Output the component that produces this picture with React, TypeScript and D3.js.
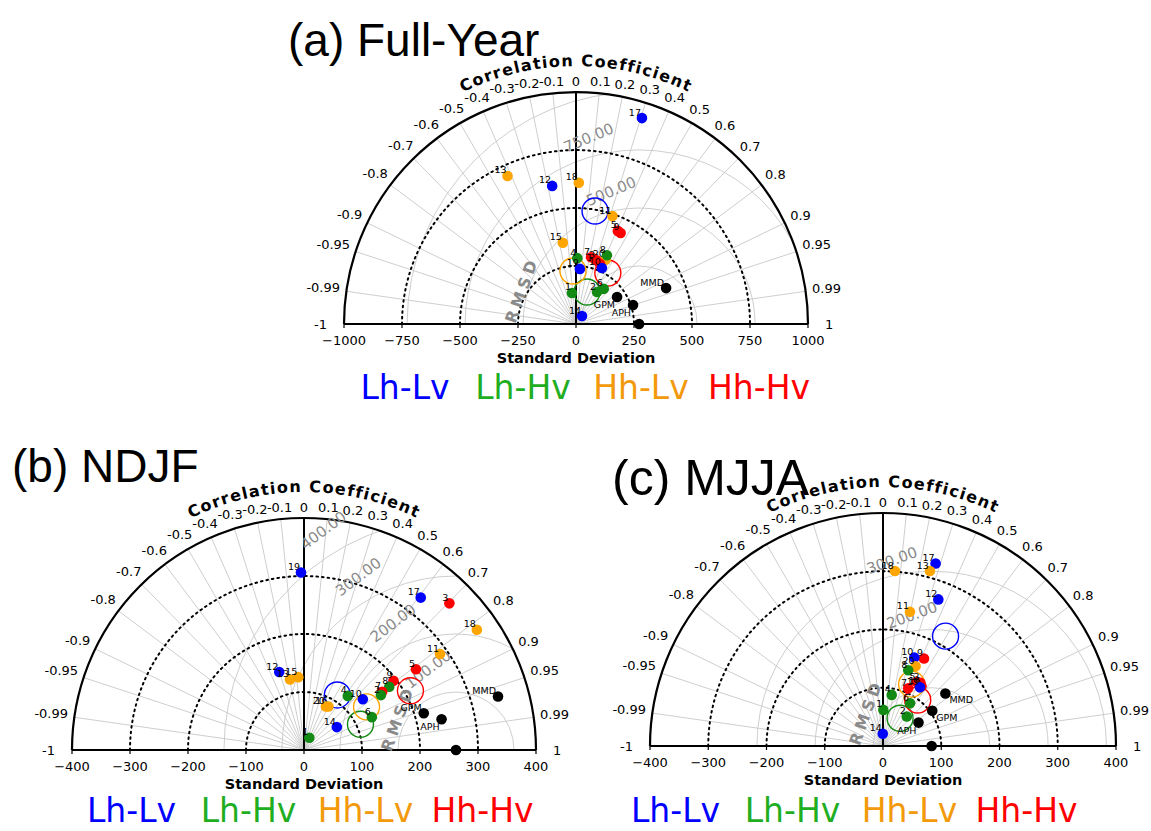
import React from 'react';
import * as d3 from 'd3';

const W = 1151;
const H = 831;
const FONT = 'DejaVu Sans, sans-serif';

// ---------- shared ----------
const corrTicks = [-1, -0.99, -0.95, -0.9, -0.8, -0.7, -0.6, -0.5, -0.4, -0.3, -0.2, -0.1, 0, 0.1, 0.2, 0.3, 0.4, 0.5, 0.6, 0.7, 0.8, 0.9, 0.95, 0.99, 1];
const groupNames = ['Lh-Lv', 'Lh-Hv', 'Hh-Lv', 'Hh-Hv'];
const markerColors = ['#0000ff', '#138a13', '#ffa500', '#ff0000'];
const legendColors = ['#0000ff', '#1fae1f', '#f39a0c', '#ff0000'];

// ---------- panel (a) Full-Year ----------
const aModelLabels = ['17', '13', '12', '18', '11', '5', '9', '15', '4', '7', '20', '8', '16', '3', '10', '19', '6', '2', '1', '14'];
const aModelGroups = [0, 2, 0, 2, 2, 3, 3, 2, 1, 3, 2, 1, 3, 3, 0, 0, 1, 1, 1, 0];
const aModelStd = [932, 703, 604, 609, 491, 440, 437, 355, 284, 295, 305, 325, 279, 289, 266, 238, 193, 165, 135, 43];
const aModelCorr = [0.305, -0.42, -0.17, 0.02, 0.32, 0.41, 0.44, -0.16, 0.02, 0.22, 0.42, 0.41, 0.37, 0.3, 0.42, 0.07, 0.62, 0.55, -0.13, 0.6];
const aObsNames = ['MMD', 'GPM', 'APH', ''];
const aObsStd = [418, 212, 259, 272];
const aObsCorr = [0.929, 0.835, 0.949, 1];
const aMeanStd = [494, 146, 229, 259];
const aMeanCorr = [0.166, 0.325, -0.057, 0.53];
const aStdTicks = [-1000, -750, -500, -250, 0, 250, 500, 750, 1000];
const aStdContours = [250, 500, 750];
const aRmsContours = [250, 500, 750, 1000];
const aRmsLabels = [500, 750];

// ---------- panel (b) NDJF ----------
const bModelLabels = ['19', '17', '3', '18', '11', '5', '9', '8', '7', '2', '4', '10', '6', '1', '14', '12', '13', '15', '16', '20'];
const bModelGroups = [0, 0, 3, 2, 2, 3, 3, 1, 3, 1, 1, 0, 1, 1, 0, 0, 2, 2, 2, 2];
const bModelStd = [306, 331, 356, 363, 287, 238, 195, 183, 168, 163, 120, 134, 130, 23, 69, 141, 124, 126, 86, 84];
const bModelCorr = [-0.017, 0.608, 0.704, 0.821, 0.817, 0.811, 0.791, 0.803, 0.802, 0.814, 0.629, 0.757, 0.9, 0.4, 0.82, -0.303, -0.194, -0.078, 0.49, 0.45];
const bObsNames = ['MMD', 'GPM', 'APH', ''];
const bObsStd = [347, 216, 243, 262];
const bObsCorr = [0.964, 0.956, 0.976, 1];
const bMeanStd = [111, 107, 131, 210];
const bMeanCorr = [0.518, 0.91, 0.823, 0.874];
const bStdTicks = [-400, -300, -200, -100, 0, 100, 200, 300, 400];
const bStdContours = [100, 200, 300];
const bRmsContours = [100, 200, 300, 400];
const bRmsLabels = [100, 200, 300, 400];

// ---------- panel (c) MJJA ----------
const cModelLabels = ['17', '13', '18', '12', '11', '9', '10', '20', '8', '5', '3', '16', '7', '19', '4', '6', '1', '2', '14'];
const cModelGroups = [0, 2, 2, 0, 2, 3, 0, 2, 1, 3, 3, 3, 3, 0, 1, 1, 1, 1, 0];
const cModelStd = [326, 311, 301, 269, 235, 166, 161, 148, 137, 124, 126, 122, 108, 119, 89, 87, 62, 65, 21];
const cModelCorr = [0.277, 0.259, 0.068, 0.353, 0.197, 0.424, 0.334, 0.378, 0.316, 0.464, 0.51, 0.542, 0.4, 0.533, 0.168, 0.535, 0.01, 0.628, -0.02];
const cObsNames = ['MMD', 'GPM', 'APH', ''];
const cObsStd = [140, 104, 73, 83.5];
const cObsCorr = [0.765, 0.813, 0.835, 1];
const cMeanStd = [217, 56, 117, 99];
const cMeanCorr = [0.495, 0.523, 0.42, 0.602];
const cStdTicks = [-400, -300, -200, -100, 0, 100, 200, 300, 400];
const cStdContours = [100, 200, 300];
const cRmsContours = [100, 200, 300];
const cRmsLabels = [200, 300];

type Cfg = {
  id: string;
  title: string;
  titleX: number;
  titleY: number;
  titleFs: number;
  cx: number;
  cy: number;
  R: number;
  max: number;
  modelLabels: string[];
  modelGroups: number[];
  modelStd: number[];
  modelCorr: number[];
  obsNames: string[];
  obsStd: number[];
  obsCorr: number[];
  obsPlace: Record<string, string>;
  meanStd: number[];
  meanCorr: number[];
  stdTicks: number[];
  stdContours: number[];
  rmsContours: number[];
  rmsLabels: number[];
  rmsAngle: number;
  rmsPad: number;
  rmsdPos: [number, number];
  legendCx: number;
  legendY: number;
  legendStep: number;
};

const panels: Cfg[] = [
  {
    id: 'a', title: '(a) Full-Year', titleX: 288, titleY: 56, titleFs: 46,
    cx: 576, cy: 324, R: 232, max: 1000,
    modelLabels: aModelLabels, modelGroups: aModelGroups, modelStd: aModelStd, modelCorr: aModelCorr,
    obsNames: aObsNames, obsStd: aObsStd, obsCorr: aObsCorr,
    obsPlace: { MMD: 'ul', GPM: 'll', APH: 'll' },
    meanStd: aMeanStd, meanCorr: aMeanCorr,
    stdTicks: aStdTicks, stdContours: aStdContours, rmsContours: aRmsContours, rmsLabels: aRmsLabels,
    rmsAngle: 113, rmsPad: 12, rmsdPos: [-233, 147],
    legendCx: 582, legendY: 399, legendStep: 118,
  },
  {
    id: 'b', title: '(b) NDJF', titleX: 12, titleY: 482, titleFs: 46,
    cx: 304, cy: 750, R: 232, max: 400,
    modelLabels: bModelLabels, modelGroups: bModelGroups, modelStd: bModelStd, modelCorr: bModelCorr,
    obsNames: bObsNames, obsStd: bObsStd, obsCorr: bObsCorr,
    obsPlace: { MMD: 'ul', GPM: 'ul', APH: 'll' },
    meanStd: bMeanStd, meanCorr: bMeanCorr,
    stdTicks: bStdTicks, stdContours: bStdContours, rmsContours: bRmsContours, rmsLabels: bRmsLabels,
    rmsAngle: 127, rmsPad: 18, rmsdPos: [162, 55],
    legendCx: 307, legendY: 822, legendStep: 117,
  },
  {
    id: 'c', title: '(c) MJJA', titleX: 612, titleY: 495, titleFs: 50,
    cx: 883, cy: 746, R: 233, max: 400,
    modelLabels: cModelLabels, modelGroups: cModelGroups, modelStd: cModelStd, modelCorr: cModelCorr,
    obsNames: cObsNames, obsStd: cObsStd, obsCorr: cObsCorr,
    obsPlace: { MMD: 'lr', GPM: 'lr', APH: 'll' },
    meanStd: cMeanStd, meanCorr: cMeanCorr,
    stdTicks: cStdTicks, stdContours: cStdContours, rmsContours: cRmsContours, rmsLabels: cRmsLabels,
    rmsAngle: 110, rmsPad: 8, rmsdPos: [-29, 58],
    legendCx: 851, legendY: 822, legendStep: 117,
  },
];

const charW = (s: string, fs: number) => {
  let w = 0;
  for (const ch of s) {
    if (ch === '.') w += 0.318;
    else if (ch === '-') w += 0.361;
    else w += 0.636;
  }
  return w * fs;
};

function Panel({ cfg }: { cfg: Cfg }) {
  const { cx, cy, R, max, id } = cfg;
  const x = d3.scaleLinear().domain([-max, max]).range([cx - R, cx + R]);
  const y = d3.scaleLinear().domain([0, max]).range([cy, cy - R]);
  const r = (v: number) => x(v) - x(0);
  const px = (sd: number, c: number) => x(sd * c);
  const py = (sd: number, c: number) => y(sd * Math.sqrt(Math.max(0, 1 - c * c)));
  const semi = (rad: number) => `M${cx - rad},${cy} A${rad},${rad} 0 0 1 ${cx + rad},${cy}`;
  const refStd = cfg.obsStd[cfg.obsNames.indexOf('')];
  const rx = x(refStd);

  const tickFs = 13;
  const corrLabels = corrTicks.map((c) => {
    const th = Math.acos(c);
    const txt = String(c);
    const w = charW(txt, tickFs);
    const h = tickFs * 0.75;
    const extra = Math.abs(c) === 1 ? 11 : 0;
    const d = R + 6 + extra + (w / 2) * Math.abs(Math.cos(th)) + (h / 2) * Math.sin(th);
    return { c, txt, lx: cx + d * Math.cos(th), ly: cy - d * Math.sin(th) };
  });

  const rmsPath = (v: number) => {
    const p = d3.path();
    p.arc(rx, cy, r(v), 0, Math.PI * 2);
    return p.toString();
  };

  const ang = (cfg.rmsAngle * Math.PI) / 180;

  const legendScale = d3
    .scalePoint<string>()
    .domain(groupNames)
    .range([cfg.legendCx - 1.5 * cfg.legendStep, cfg.legendCx + 1.5 * cfg.legendStep]);

  return (
    <g fontFamily={FONT}>
      <defs>
        <clipPath id={`clip-${id}`}>
          <path d={`${semi(R)} Z`} />
        </clipPath>
        <path id={`cc-${id}`} d={semi(R + 26)} />
      </defs>
      <text x={cfg.titleX} y={cfg.titleY} fontFamily="Liberation Sans, Arial, sans-serif" fontSize={cfg.titleFs} fill="#000">
        {cfg.title}
      </text>
      {/* grid */}
      <g clipPath={`url(#clip-${id})`}>
        {corrTicks.map((c) => (
          <line key={`rl${c}`} x1={cx} y1={cy} x2={px(max, c)} y2={py(max, c)} stroke="#c8c8c8" strokeWidth={0.9} />
        ))}
        {cfg.rmsContours.map((v) => (
          <path key={`rms${v}`} d={rmsPath(v)} fill="none" stroke="#c8c8c8" strokeWidth={0.9} />
        ))}
      </g>
      {cfg.stdContours.map((v) => (
        <path key={`sc${v}`} d={semi(r(v))} fill="none" stroke="#000" strokeWidth={2} strokeDasharray="1.6 4" strokeLinecap="round" />
      ))}
      {/* axes */}
      <path d={semi(R)} fill="none" stroke="#000" strokeWidth={2.2} />
      <line x1={x(-max)} y1={cy} x2={x(max)} y2={cy} stroke="#000" strokeWidth={2.2} />
      <line x1={x(0)} y1={cy} x2={x(0)} y2={y(max)} stroke="#000" strokeWidth={2} />
      {cfg.stdTicks.map((t) => (
        <g key={`st${t}`}>
          <line x1={x(t)} y1={cy} x2={x(t)} y2={cy + 4} stroke="#000" strokeWidth={1.2} />
          <text x={x(t)} y={cy + 21} textAnchor="middle" fontSize={tickFs}>
            {t < 0 ? `\u2212${Math.abs(t)}` : String(t)}
          </text>
        </g>
      ))}
      <text x={cx} y={cy + 39} textAnchor="middle" fontSize={14.5} fontWeight="bold">
        Standard Deviation
      </text>
      {corrLabels.map((l) => (
        <text key={`cl${l.c}`} x={l.lx} y={l.ly} textAnchor="middle" dominantBaseline="central" fontSize={tickFs}>
          {l.txt}
        </text>
      ))}
      <text fontSize={16} fontWeight="bold" letterSpacing={1.3}>
        <textPath href={`#cc-${id}`} startOffset="50%" textAnchor="middle">
          Correlation Coefficient
        </textPath>
      </text>
      {/* RMS labels */}
      {cfg.rmsLabels.map((v) => {
        const d = r(v) + cfg.rmsPad;
        const lx = rx + d * Math.cos(ang);
        const ly = cy - d * Math.sin(ang);
        const rot = -(cfg.rmsAngle - 90);
        return (
          <text key={`rl${v}`} x={lx} y={ly} fontSize={15} fill="#8a8a8a" transform={`rotate(${rot},${lx},${ly})`}>
            {v.toFixed(2)}
          </text>
        );
      })}
      <text
        x={x(cfg.rmsdPos[0])}
        y={y(cfg.rmsdPos[1])}
        fontSize={16}
        fontWeight="bold"
        fill="#8a8a8a"
        letterSpacing={4}
        textAnchor="middle"
        dominantBaseline="central"
        transform={`rotate(-70,${x(cfg.rmsdPos[0])},${y(cfg.rmsdPos[1])})`}
      >
        RMSD
      </text>
      {/* group mean open circles */}
      {cfg.meanStd.map((s, i) => (
        <circle key={`m${i}`} cx={px(s, cfg.meanCorr[i])} cy={py(s, cfg.meanCorr[i])} r={13} fill="none" stroke={markerColors[i]} strokeWidth={1.4} />
      ))}
      {/* obs points */}
      {cfg.obsStd.map((s, i) => {
        const X = px(s, cfg.obsCorr[i]);
        const Y = py(s, cfg.obsCorr[i]);
        const name = cfg.obsNames[i];
        const pl = cfg.obsPlace[name];
        let lbl = null;
        if (name) {
          if (pl === 'ul') lbl = <text x={X - 2} y={Y - 2.5} textAnchor="end" fontSize={9.5}>{name}</text>;
          else if (pl === 'll') lbl = <text x={X - 2} y={Y + 11} textAnchor="end" fontSize={9.5}>{name}</text>;
          else lbl = <text x={X + 4} y={Y + 10} textAnchor="start" fontSize={9.5}>{name}</text>;
        }
        return (
          <g key={`o${i}`}>
            <circle cx={X} cy={Y} r={5.3} fill="#000" />
            {lbl}
          </g>
        );
      })}
      {/* model points */}
      {cfg.modelStd.map((s, i) => {
        const X = px(s, cfg.modelCorr[i]);
        const Y = py(s, cfg.modelCorr[i]);
        return (
          <g key={`p${i}`}>
            <circle cx={X} cy={Y} r={5.3} fill={markerColors[cfg.modelGroups[i]]} />
            <text x={X - 1} y={Y - 2.5} textAnchor="end" fontSize={9.5}>
              {cfg.modelLabels[i]}
            </text>
          </g>
        );
      })}
      {/* legend */}
      {groupNames.map((g, i) => (
        <text key={`lg${g}`} x={legendScale(g)} y={cfg.legendY} textAnchor="middle" fontSize={33} fill={legendColors[i]}>
          {g}
        </text>
      ))}
    </g>
  );
}

export default function App() {
  return (
    <svg width={W} height={H} viewBox={`0 0 ${W} ${H}`} style={{ display: 'block', position: 'absolute', left: 0, top: 0, background: '#fff' }}>
      <rect width={W} height={H} fill="#fff" />
      {panels.map((p) => (
        <Panel key={p.id} cfg={p} />
      ))}
    </svg>
  );
}
